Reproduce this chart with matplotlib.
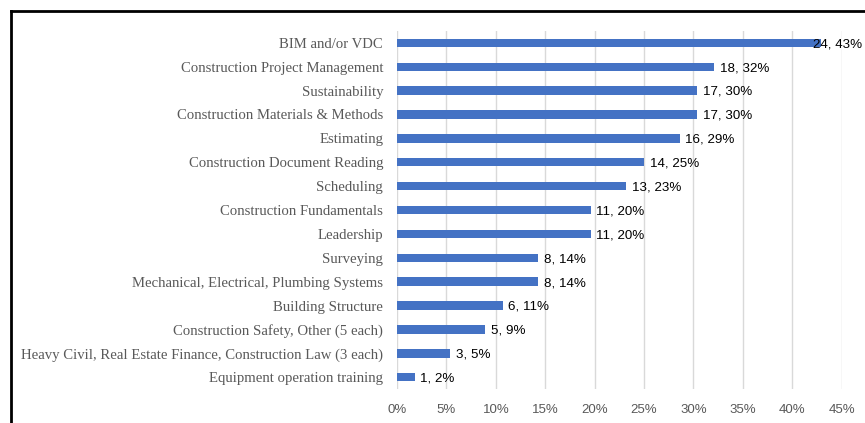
import matplotlib
matplotlib.use("Agg")
import matplotlib.pyplot as plt
from matplotlib.ticker import PercentFormatter

categories = [
    "BIM and/or VDC",
    "Construction Project Management",
    "Sustainability",
    "Construction Materials & Methods",
    "Estimating",
    "Construction Document Reading",
    "Scheduling",
    "Construction Fundamentals",
    "Leadership",
    "Surveying",
    "Mechanical, Electrical, Plumbing Systems",
    "Building Structure",
    "Construction Safety, Other (5 each)",
    "Heavy Civil, Real Estate Finance, Construction Law (3 each)",
    "Equipment operation training",
]
counts = [24, 18, 17, 17, 16, 14, 13, 11, 11, 8, 8, 6, 5, 3, 1]
percents = [42.9, 32.1, 30.4, 30.4, 28.6, 25.0, 23.2, 19.6, 19.6, 14.3, 14.3, 10.7, 8.9, 5.4, 1.8]
xticks = [0, 5, 10, 15, 20, 25, 30, 35, 40, 45]

fig = plt.figure(figsize=(8.65, 4.23), dpi=100)
ax = fig.add_axes([0.459, 0.080, 0.514, 0.847])

y = list(range(len(categories)))
ax.barh(y, percents, height=0.35, color="#4472C4", zorder=3)

ax.set_ylim(len(categories) - 0.5, -0.5)
ax.set_xlim(0, 45)
ax.set_yticks(y)
ax.set_yticklabels(categories, family="Liberation Serif", fontsize=10.6, color="#595959")
ax.set_xticks(xticks)
ax.xaxis.set_major_formatter(PercentFormatter(decimals=0))
for lab in ax.get_xticklabels():
    lab.set_family("Liberation Sans")
    lab.set_fontsize(9.5)
    lab.set_color("#595959")
ax.tick_params(length=0)
ax.tick_params(axis="x", pad=11)
ax.tick_params(axis="y", pad=10)
ax.grid(axis="x", color="#d9d9d9", linewidth=1, zorder=0)
for s in ax.spines.values():
    s.set_visible(False)

# data labels, pulled back inside the figure when they would run off the edge
renderer = fig.canvas.get_renderer()
for yi, c, p in zip(y, counts, percents):
    t = ax.annotate(f"{c}, {round(p)}%", (p, yi), xytext=(4, -1), textcoords="offset points",
                    va="center", ha="left", fontsize=9.6, family="Liberation Sans",
                    color="black", zorder=4)
    bb = t.get_window_extent(renderer)
    if bb.x1 > fig.bbox.width - 3:
        t.set_position((4 - (bb.x1 - fig.bbox.width + 3) * 72 / fig.dpi, -1))

# outer frame (only top and left visible in the crop)
fig.add_artist(plt.Line2D([0.0127, 1.0], [0.974, 0.974], color="black", linewidth=2))
fig.add_artist(plt.Line2D([0.0127, 0.0127], [0.0, 0.974], color="black", linewidth=2))

fig.savefig("out.png", dpi=100)
